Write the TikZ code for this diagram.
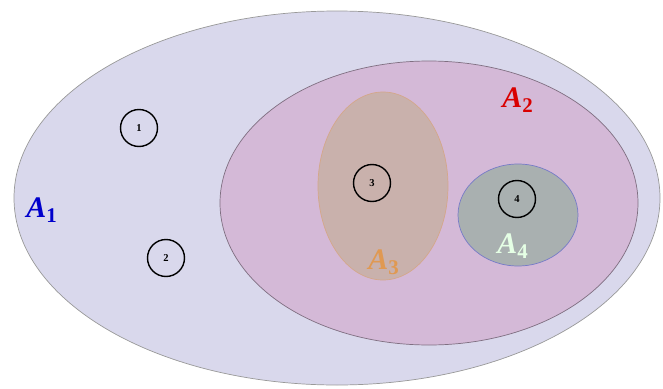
\documentclass[tikz,border=0pt]{standalone}
\usepackage{fontspec}
\setmainfont{Liberation Serif}
\usepackage{tikz}
\usetikzlibrary{shapes.geometric}
\definecolor{setone}{HTML}{D9D8EC}
\definecolor{settwo}{HTML}{D4B9D7}
\definecolor{setthree}{HTML}{C9B1AC}
\definecolor{setfour}{HTML}{A9B0B0}
\tikzstyle{elem}=[draw, circle, thick, minimum size=7.4mm, inner sep=0pt,
font=\fontsize{6}{6}\selectfont\bfseries]
\tikzstyle{setname}=[font=\fontsize{17}{19}\selectfont\bfseries\itshape]
\newcommand{\setlabel}[1]{A\textsubscript{\upshape #1}}

\begin{document}
\begin{tikzpicture}
	[x=0.02cm, y=-0.02cm]
	\useasboundingbox (0,0) rectangle (663,389);
	\filldraw[fill=setone, draw=black!40] (337,198) ellipse (323 and 187);
	\filldraw[fill=settwo, draw=black!40!settwo] (429,203) ellipse (209 and 142);
	\filldraw[fill=setthree, draw=setthree!80!orange] (383,186) ellipse (65 and 94);
	\filldraw[fill=setfour, draw=setfour!70!blue] (518,215) ellipse (60 and 51);

	\node[elem] (1) at (139,128) {1};
	\node[elem] (2) at (166,258) {2};
	\node[elem] (3) at (372,183) {3};
	\node[elem] (4) at (517,199) {4};

	\node[setname, text=blue!80!black] (a1) at (42,210) {\setlabel{1}};
	\node[setname, text=red!85!black] (a2) at (518,100) {\setlabel{2}};
	\node[setname, text=brown!60!orange!80!white] (a3) at (384,262) {\setlabel{3}};
	\node[setname, text=white!90!green] (a4) at (513,246) {\setlabel{4}};
\end{tikzpicture}
\end{document}
